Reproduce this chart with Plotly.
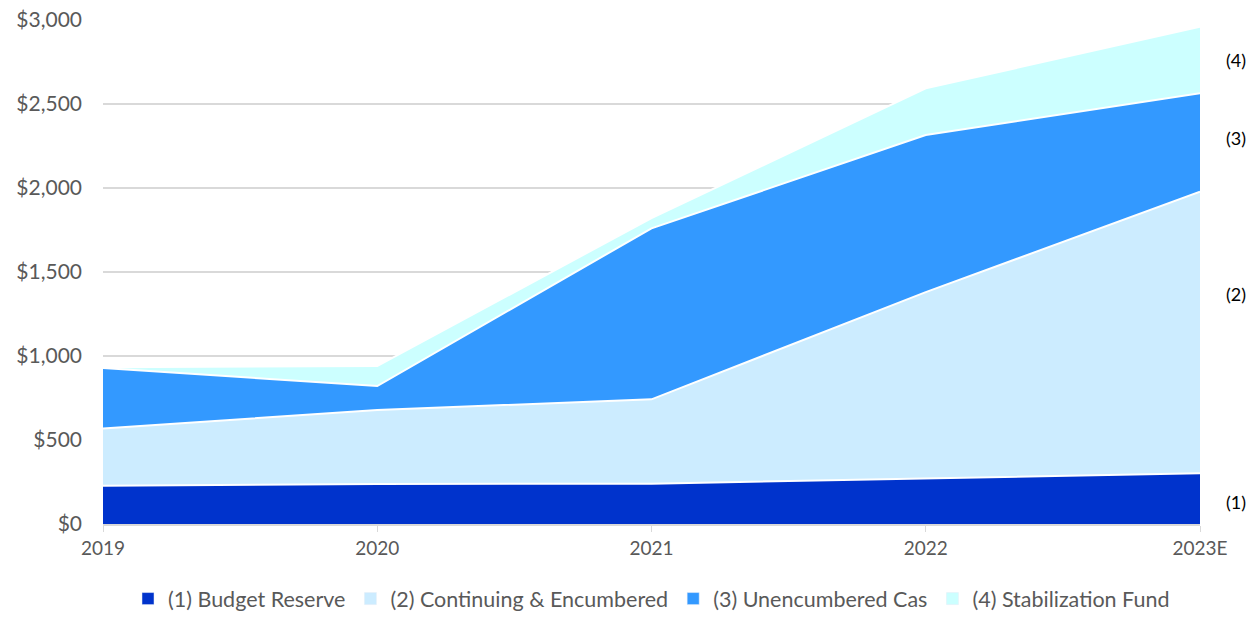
import plotly.graph_objects as go

years = ["2019", "2020", "2021", "2022", "2023E"]
budget_reserve = [228, 238, 240, 272, 302]
continuing_encumbered = [340, 441, 502, 1108, 1676]
unencumbered_cash = [361, 142, 1018, 935, 586]
stabilization_fund = [4, 119, 61, 278, 396]

names = ["(1) Budget Reserve", "(2) Continuing & Encumbered",
         "(3) Unencumbered Cas", "(4) Stabilization Fund"]
colors = ["#0033CC", "#CCECFF", "#3399FF", "#CCFFFF"]
series = [budget_reserve, continuing_encumbered, unencumbered_cash, stabilization_fund]
side_labels = ["(1)", "(2)", "(3)", "(4)"]
side_label_y = [131, 1369, 2298, 2762]

FONT = "Lato, 'Open Sans', sans-serif"
fig = go.Figure()
for name, vals, col in zip(names, series, colors):
    fig.add_trace(go.Scatter(
        x=years, y=vals, mode="lines", stackgroup="one",
        line=dict(color="white", width=2), fillcolor=col,
        name=name, showlegend=False, hoverinfo="x+y+name"))
for name, col in zip(names, colors):
    fig.add_trace(go.Bar(x=[years[0]], y=[None], name=name,
                         marker=dict(color=col), showlegend=True))

for lab, yv in zip(side_labels, side_label_y):
    fig.add_annotation(x=1.0, xref="paper", xshift=36, xanchor="center",
                       y=yv, yref="y", yanchor="middle",
                       text=lab, showarrow=False,
                       font=dict(family=FONT, size=18, color="#000000"))

fig.update_layout(
    width=1257, height=619,
    margin=dict(l=103, r=57, t=20, b=95, autoexpand=False),
    plot_bgcolor="white", paper_bgcolor="white",
    font=dict(family=FONT, color="#595959", size=19),
    showlegend=True,
    legend=dict(orientation="h", x=0.5, xanchor="center", y=-0.148, yanchor="middle",
                font=dict(family=FONT, size=21.5, color="#595959"),
                itemwidth=30, traceorder="normal"),
    xaxis=dict(type="category", range=[0, 4], showgrid=False,
               showline=True, linecolor="#D9D9D9", linewidth=2,
               ticks="outside", tickcolor="#D9D9D9", ticklen=6, tickwidth=1,
               tickfont=dict(family=FONT, size=19, color="#595959")),
    yaxis=dict(range=[0, 3000], dtick=500, tickprefix="$", tickformat=",",
               showgrid=True, gridcolor="#D9D9D9", gridwidth=2,
               zeroline=False, showline=False, ticks="", ticklabelstandoff=20,
               tickfont=dict(family=FONT, size=21, color="#595959")),
)

fig.write_html("out.html")
